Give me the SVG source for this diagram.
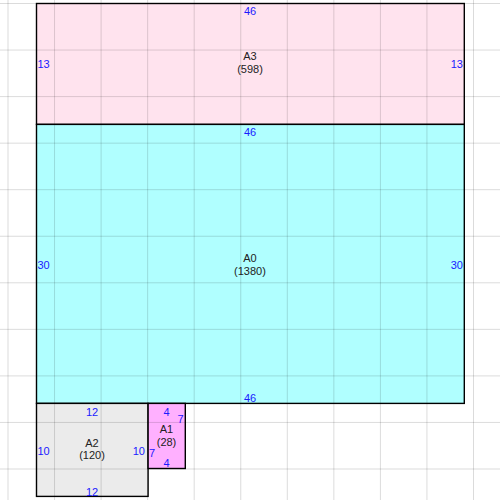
<svg xmlns="http://www.w3.org/2000/svg" width="500" height="500" viewBox="0 0 500 500">
<style>
.r{stroke:#000;stroke-width:1.4}
.g line{stroke:#000;stroke-opacity:0.14;stroke-width:1}
text{font-family:"Liberation Sans",Arial,sans-serif;font-size:11px}
.d{fill:#1a1aff}
.n{fill:#222;text-anchor:middle}
.c{text-anchor:middle}
.e{text-anchor:end}
</style>
<rect width="500" height="500" fill="#fff"/>
<g id="A3">
<rect class="r" x="36.5" y="3.5" width="427.8" height="120.9" fill="#ffe3ee"/>
</g>
<g id="A0">
<rect class="r" x="36.5" y="124.4" width="427.8" height="279" fill="#b0ffff"/>
</g>
<g id="A2">
<rect class="r" x="36.5" y="403.4" width="111.6" height="93" fill="#ebebeb"/>
</g>
<g id="A1">
<rect class="r" x="148.1" y="403.4" width="37.2" height="65.1" fill="#ffb0ff"/>
</g>
<g class="g">
<line x1="8" y1="0" x2="8" y2="500"/>
<line x1="54.55" y1="0" x2="54.55" y2="500"/>
<line x1="101.1" y1="0" x2="101.1" y2="500"/>
<line x1="147.65" y1="0" x2="147.65" y2="500"/>
<line x1="194.2" y1="0" x2="194.2" y2="500"/>
<line x1="240.75" y1="0" x2="240.75" y2="500"/>
<line x1="287.3" y1="0" x2="287.3" y2="500"/>
<line x1="333.85" y1="0" x2="333.85" y2="500"/>
<line x1="380.4" y1="0" x2="380.4" y2="500"/>
<line x1="426.95" y1="0" x2="426.95" y2="500"/>
<line x1="473.5" y1="0" x2="473.5" y2="500"/>
<line x1="0" y1="3.5" x2="500" y2="3.5"/>
<line x1="0" y1="50.05" x2="500" y2="50.05"/>
<line x1="0" y1="96.6" x2="500" y2="96.6"/>
<line x1="0" y1="143.15" x2="500" y2="143.15"/>
<line x1="0" y1="189.7" x2="500" y2="189.7"/>
<line x1="0" y1="236.25" x2="500" y2="236.25"/>
<line x1="0" y1="282.8" x2="500" y2="282.8"/>
<line x1="0" y1="329.35" x2="500" y2="329.35"/>
<line x1="0" y1="375.9" x2="500" y2="375.9"/>
<line x1="0" y1="422.45" x2="500" y2="422.45"/>
<line x1="0" y1="469" x2="500" y2="469"/>
</g>
<g id="A3-labels">
<text class="n" x="250" y="60">A3</text>
<text class="n" x="250" y="73">(598)</text>
<text class="d c" x="250" y="15">46</text>
<text class="d" x="37.5" y="68">13</text>
<text class="d e" x="463" y="68">13</text>
</g>
<g id="A0-labels">
<text class="n" x="250" y="262">A0</text>
<text class="n" x="250" y="275">(1380)</text>
<text class="d c" x="250" y="136">46</text>
<text class="d c" x="250" y="402">46</text>
<text class="d" x="37.5" y="269">30</text>
<text class="d e" x="463" y="269">30</text>
</g>
<g id="A2-labels">
<text class="n" x="92" y="447">A2</text>
<text class="n" x="92" y="459">(120)</text>
<text class="d c" x="92" y="415.5">12</text>
<text class="d c" x="92" y="495.5">12</text>
<text class="d" x="37.5" y="455">10</text>
<text class="d e" x="145" y="455">10</text>
</g>
<g id="A1-labels">
<text class="n" x="166.5" y="433">A1</text>
<text class="n" x="166.5" y="445.5">(28)</text>
<text class="d c" x="166.5" y="415.5">4</text>
<text class="d c" x="166.5" y="466.5">4</text>
<text class="d" x="149" y="457">7</text>
<text class="d e" x="183.5" y="423">7</text>
</g>
</svg>
